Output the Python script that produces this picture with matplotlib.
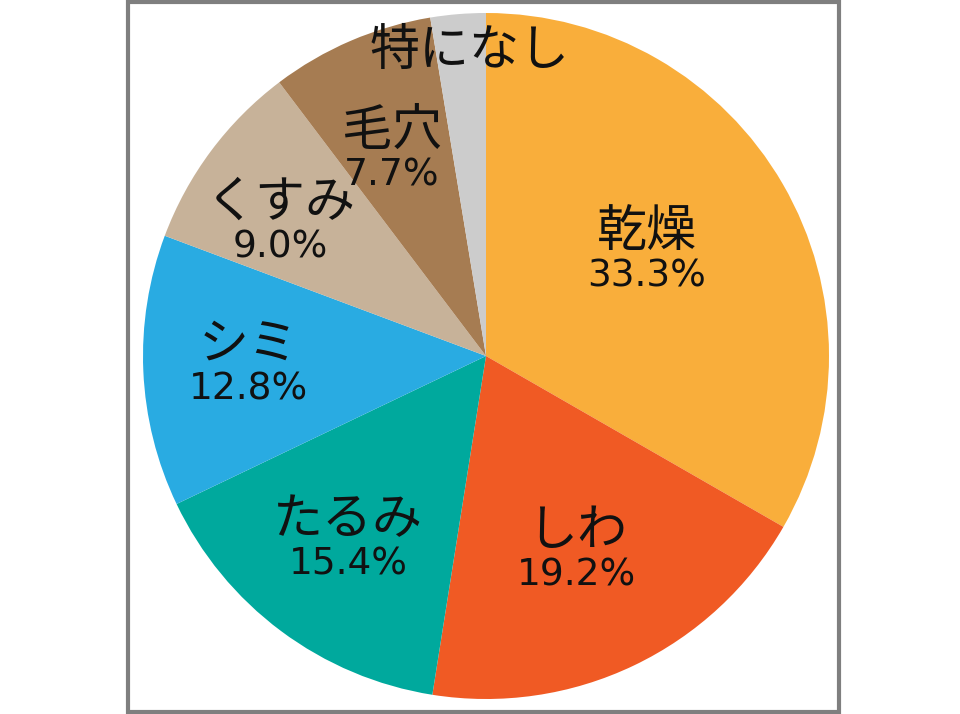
import matplotlib
matplotlib.use('Agg')
import matplotlib.pyplot as plt
from matplotlib.patches import Rectangle

plt.rcParams['font.family'] = ['Noto Sans CJK JP', 'DejaVu Sans']

# Data
labels = ['乾燥', 'しわ', 'たるみ', 'シミ', 'くすみ', '毛穴', '特になし']
shares = [33.3, 19.2, 15.4, 12.8, 9.0, 7.7, 2.6]
show_pct = [True, True, True, True, True, True, False]
colors = ['#F9AE3B', '#F05A24', '#00A99D', '#29ABE2', '#C7B299', '#A67C52', '#CCCCCC']

# label anchor points in pie units (radius = 1)
label_pos = [(0.469, 0.309), (0.265, -0.563), (-0.402, -0.530),
             (-0.691, -0.020), (-0.601, 0.394), (-0.274, 0.603),
             (-0.047, 0.889)]

W, H = 960, 714
fig = plt.figure(figsize=(W / 100, H / 100), dpi=100)

# gray frame
fig.patches.append(Rectangle((128 / W, 2 / H), 711 / W, 710 / H,
                             transform=fig.transFigure, fill=False,
                             edgecolor='#7F7F7F', linewidth=3))

R = 343
cx, cy = 486, 356
ax = fig.add_axes([(cx - R) / W, (H - cy - R) / H, 2 * R / W, 2 * R / H])

wedges, _ = ax.pie(shares, colors=colors, startangle=90, counterclock=False,
                   radius=1, wedgeprops=dict(linewidth=0))
ax.set_xlim(-1, 1)
ax.set_ylim(-1, 1)
ax.set_aspect('equal')
ax.axis('off')

for lab, val, sp, (x, y) in zip(labels, shares, show_pct, label_pos):
    if not sp:
        ax.text(x, y, lab, ha='center', va='center', fontsize=36,
                color='#111111')
        continue
    ax.annotate(lab, (x, y), xytext=(0, 13), textcoords='offset points',
                ha='center', va='center', fontsize=36, color='#111111')
    ax.annotate(f'{val:.1f}%', (x, y), xytext=(0, -19),
                textcoords='offset points', ha='center', va='center',
                fontsize=27, family='DejaVu Sans', color='#111111')

fig.savefig('out.png', dpi=100)
